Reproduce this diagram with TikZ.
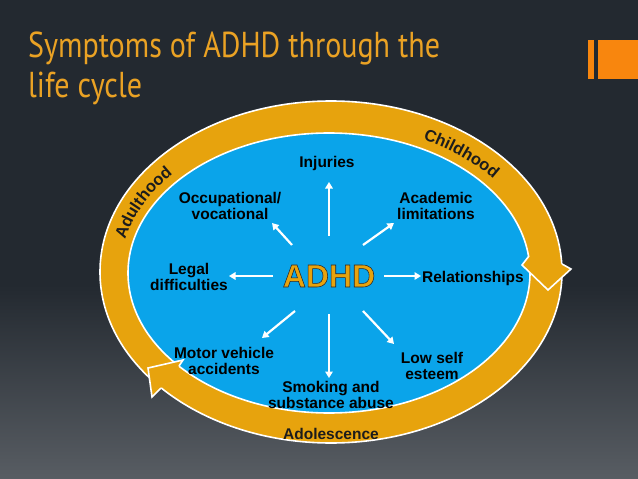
\documentclass[tikz,border=0pt]{standalone}
\usepackage{fontspec}
\setmainfont{Liberation Sans}
\newfontfamily\titlefont{PT Sans}
\usetikzlibrary{arrows.meta,decorations.text}
\definecolor{bgdark}{RGB}{35,41,48}
\definecolor{bglight}{RGB}{88,93,99}
\definecolor{ringorange}{RGB}{231,163,13}
\definecolor{discblue}{RGB}{10,164,234}
\definecolor{titleorange}{RGB}{234,162,36}
\definecolor{barorange}{RGB}{248,134,14}
\definecolor{labeldark}{RGB}{28,28,28}
\newcommand{\outlinedtext}[1]{\special{pdf:literal direct 2 Tr 0.55 w 0.15 0.15 0.17 RG}#1\special{pdf:literal direct 0 Tr}}
\begin{document}
\begin{tikzpicture}[x=1pt,y=-1pt,
  lbl/.style={font=\bfseries\fontsize{15.5}{16.5}\selectfont, text=black, align=center, inner sep=0pt},
  spoke/.style={draw=white, line width=2.2pt, -{Triangle[length=6.5pt,width=7.5pt]}},
  ringedge/.style={draw=white, line width=1.6pt},
  titletext/.style={anchor=base west, inner sep=0pt, font=\titlefont\fontsize{36}{36}\selectfont, text=titleorange},
  ]
\useasboundingbox (0,0) rectangle (638,479);
\fill[bgdark] (0,0) rectangle (638,479);
\shade[top color=bgdark, bottom color=bglight] (0,285) rectangle (638,479);

% title
\node[titletext] (title1) at (28,57) {\scalebox{0.835}[1]{Symptoms of ADHD through the}};
\node[titletext] (title2) at (28,97) {\scalebox{0.835}[1]{life cycle}};

% bars top right
\fill[barorange] (588,40) rectangle (594,79);
\fill[barorange] (598,40) rectangle (638,79);

% ring and disc
\filldraw[fill=ringorange, ringedge] (331,272) ellipse [x radius=231, y radius=171];
\filldraw[fill=discblue, ringedge] (329,273) ellipse [x radius=201, y radius=140];

% arrowheads of the cycle
\fill[ringorange] (529,256) -- (522,265) -- (548,290) -- (571,269) -- (562,264) -- cycle;
\draw[ringedge, line join=miter] (529,256) -- (522,265) -- (548,290) -- (571,269) -- (562,264);
\fill[ringorange] (179,366) -- (183,360) -- (148,368) -- (152,397) -- (161,388) -- cycle;
\draw[ringedge, line join=miter] (179,366) -- (183,360) -- (148,368) -- (152,397) -- (161,388);

% ring texts
\path[decorate, decoration={text along path, text align=center,
  text={|\bfseries\fontsize{16.5}{16.5}\selectfont\color{labeldark}|Childhood}}]
  (330,273) ++(-76:210 and 149) arc[start angle=-76, end angle=-24, x radius=210, y radius=149];
\path[decorate, decoration={text along path, text align=center,
  text={|\bfseries\fontsize{16.5}{16.5}\selectfont\color{labeldark}|Adulthood}}]
  (330,273) ++(-180:210 and 149) arc[start angle=-180, end angle=-128, x radius=210, y radius=149];
\node[lbl, text=labeldark] (adol) at (331,434) {Adolescence};

% centre
\node[inner sep=0pt, font=\bfseries\fontsize{32}{32}\selectfont, text=ringorange] (adhd) at (329,276) {\outlinedtext{ADHD}};

% labels
\node[lbl] (inj) at (327,163) {Injuries};
\node[lbl] (occ) at (230,206) {Occupational/\\vocational};
\node[lbl] (acad) at (436,206) {Academic\\limitations};
\node[lbl] (legal) at (189,277) {Legal\\difficulties};
\node[lbl] (rel) at (473,278) {Relationships};
\node[lbl] (motor) at (224,361) {Motor vehicle\\accidents};
\node[lbl] (smoke) at (331,395) {Smoking and\\substance abuse};
\node[lbl] (low) at (432,366) {Low self\\esteem};

% spoke end points
\coordinate (sU) at (329,236);  \coordinate (eU) at (329,182);
\coordinate (sUL) at (292,245); \coordinate (eUL) at (272,223);
\coordinate (sUR) at (363,245); \coordinate (eUR) at (394,223);
\coordinate (sL) at (273,276);  \coordinate (eL) at (229,276);
\coordinate (sR) at (384,276);  \coordinate (eR) at (421,276);
\coordinate (sDL) at (295,311); \coordinate (eDL) at (262,338);
\coordinate (sD) at (329,314);  \coordinate (eD) at (329,378);
\coordinate (sDR) at (363,311); \coordinate (eDR) at (394,344);

\draw[spoke] (sU) -- (eU);
\draw[spoke] (sUL) -- (eUL);
\draw[spoke] (sUR) -- (eUR);
\draw[spoke] (sL) -- (eL);
\draw[spoke] (sR) -- (eR);
\draw[spoke] (sDL) -- (eDL);
\draw[spoke] (sD) -- (eD);
\draw[spoke] (sDR) -- (eDR);
\end{tikzpicture}
\end{document}
